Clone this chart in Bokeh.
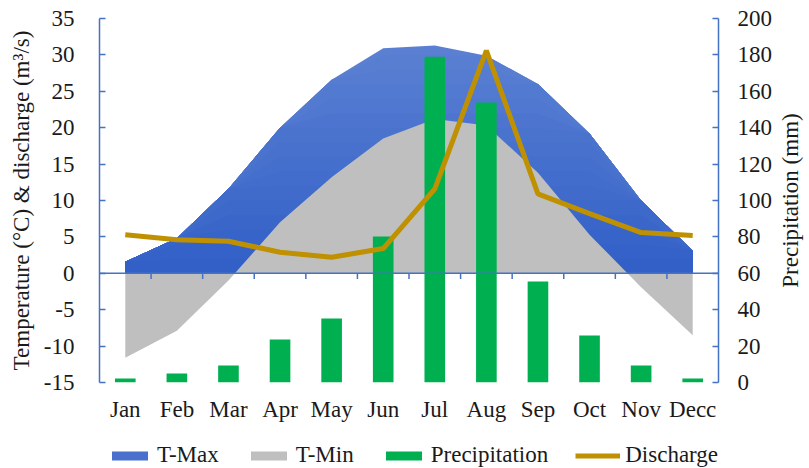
from bokeh.plotting import figure
from bokeh.layouts import column, row
from bokeh.models import (Range1d, LinearAxis, FixedTicker, Span, Legend, LegendItem, Title)
from bokeh.embed import file_html
from bokeh.resources import INLINE

months = ["Jan", "Feb", "Mar", "Apr", "May", "Jun", "Jul", "Aug", "Sep", "Oct", "Nov", "Decc"]
t_max = [1.6, 4.8, 11.6, 20.0, 26.6, 30.9, 31.3, 29.9, 26.0, 19.2, 10.0, 3.1]
t_min = [-11.6, -7.9, -1.0, 7.0, 13.2, 18.5, 21.2, 20.3, 13.8, 5.3, -1.9, -8.5]
precipitation = [2.2, 4.9, 9.3, 23.6, 35.2, 80.2, 179.0, 153.8, 55.5, 25.8, 9.3, 2.2]
discharge = [5.3, 4.6, 4.4, 2.9, 2.2, 3.4, 11.6, 30.6, 10.9, 8.2, 5.6, 5.2]
left_ticks = [-15, -10, -5, 0, 5, 10, 15, 20, 25, 30, 35]
right_ticks = [0, 20, 40, 60, 80, 100, 120, 140, 160, 180, 200]
series_names = ["T-Max", "T-Min", "Precipitation", "Discharge"]

x = [i + 0.5 for i in range(len(months))]
zeros = [0] * len(months)
boundaries = list(range(1, len(months)))

FONT = "Liberation Serif"
AX = "#4472c4"
TXT = "#1a1a1a"
FS = "23px"
C_MAX = "#4a70cd"
C_MIN = "#bfbfbf"
C_PRE = "#00b050"
C_DIS = "#bf9000"

MAIN_W, MAIN_H, TITLE_W, LEG_H = 775, 424, 34, 44

p = figure(width=MAIN_W, height=MAIN_H, output_backend="svg", toolbar_location=None,
           x_range=Range1d(0, 12), y_range=Range1d(-15, 35),
           min_border_left=99, min_border_right=57, min_border_top=18, min_border_bottom=42)
p.extra_y_ranges = {"precip": Range1d(0, 200)}
p.outline_line_color = None
p.grid.visible = False
p.background_fill_color = "white"

# T-Max area with a vertical colour gradient (light at top, dark at bottom)
top_rgb = (0x5b, 0x80, 0xd3)
bot_rgb = (0x2f, 0x5e, 0xc6)
levels = [32, 30, 28, 26, 24, 22, 20, 18, 16, 14, 12, 10, 8, 6, 4, 2]
for lev in levels:
    f = lev / 32.0
    col = "#%02x%02x%02x" % tuple(int(round(b + (t - b) * f)) for t, b in zip(top_rgb, bot_rgb))
    p.varea(x=x, y1=zeros, y2=[min(v, lev) for v in t_max], fill_color=col)

p.varea(x=x, y1=zeros, y2=t_min, fill_color=C_MIN)

zero_line = Span(location=0, dimension="width", line_color=AX, line_width=1.5, level="glyph")
p.add_layout(zero_line)
p.segment(x0=boundaries, y0=[0] * len(boundaries), x1=boundaries, y1=[-0.8] * len(boundaries),
          line_color=AX, line_width=1.5)

p.vbar(x=x, top=precipitation, bottom=0, width=0.4, fill_color=C_PRE,
       line_color=None, y_range_name="precip")
p.line(x=x, y=discharge, line_color=C_DIS, line_width=5)

def style_y(ax):
    ax.axis_line_color = AX
    ax.axis_line_width = 1.5
    ax.major_tick_line_color = AX
    ax.major_tick_line_width = 1.5
    ax.major_tick_in = 6
    ax.major_tick_out = 0
    ax.minor_tick_line_color = None
    ax.major_label_text_font = FONT
    ax.major_label_text_font_size = FS
    ax.major_label_text_color = TXT
    ax.axis_label_text_font = FONT
    ax.axis_label_text_font_size = FS
    ax.axis_label_text_font_style = "normal"
    ax.axis_label_text_color = TXT

ya = p.yaxis[0]
ya.ticker = FixedTicker(ticks=left_ticks)
ya.major_label_overrides = {v: str(v) for v in left_ticks}
ya.axis_label = "Temperature (°C) & discharge (m³/s)"
style_y(ya)
ya.major_label_standoff = 25
ya.axis_label_standoff = 7

ra = LinearAxis(y_range_name="precip", ticker=FixedTicker(ticks=right_ticks))
ra.major_label_overrides = {v: str(v) for v in right_ticks}
style_y(ra)
ra.major_label_standoff = 19
p.add_layout(ra, "right")

xa = p.xaxis[0]
xa.ticker = FixedTicker(ticks=x)
xa.major_label_overrides = {xi: m for xi, m in zip(x, months)}
xa.axis_line_color = None
xa.major_tick_line_color = None
xa.minor_tick_line_color = None
xa.major_label_standoff = 8
xa.major_label_text_font = FONT
xa.major_label_text_font_size = FS
xa.major_label_text_color = TXT

# right-hand axis title (reads bottom to top), in a narrow strip beside the chart
rt = figure(width=TITLE_W, height=MAIN_H, output_backend="svg", toolbar_location=None,
            x_range=Range1d(0, 1), y_range=Range1d(0, 1),
            x_axis_location=None, y_axis_location=None,
            min_border_left=0, min_border_right=0, min_border_top=18, min_border_bottom=42)
rt.outline_line_color = None
rt.grid.visible = False
rt.add_layout(Title(text="Precipitation (mm)", align="center", standoff=0, offset=0,
                    text_font=FONT, text_font_size=FS, text_font_style="normal",
                    text_color=TXT), "left")

# legend strip below the chart; its renderers lie outside the strip's visible range
lg = figure(width=MAIN_W + TITLE_W, height=LEG_H, output_backend="svg", toolbar_location=None,
            x_range=Range1d(-3, -2), y_range=Range1d(-3, -2),
            x_axis_location=None, y_axis_location=None,
            min_border_left=0, min_border_right=0, min_border_top=0, min_border_bottom=0)
lg.outline_line_color = None
lg.grid.visible = False
d_max = lg.vbar(x=x, top=t_max, width=0.4, fill_color=C_MAX, line_color=None)
d_min = lg.vbar(x=x, top=t_min, width=0.4, fill_color=C_MIN, line_color=None)
d_pre = lg.vbar(x=x, top=precipitation, width=0.4, fill_color=C_PRE, line_color=None)
d_dis = lg.line(x=x, y=discharge, line_color=C_DIS, line_width=5)

legend = Legend(items=[LegendItem(label=n, renderers=[r]) for n, r in
                       zip(series_names, [d_max, d_min, d_pre, d_dis])],
                orientation="horizontal", location=(107, 0),
                glyph_width=45, glyph_height=11, label_standoff=5, spacing=27,
                padding=0, margin=0, border_line_alpha=0, background_fill_alpha=0,
                label_text_font=FONT, label_text_font_size=FS, label_text_color=TXT)
lg.add_layout(legend, "center")

layout = column(row(p, rt, spacing=0), lg, spacing=0)
open("out.html", "w").write(file_html(layout, INLINE))
